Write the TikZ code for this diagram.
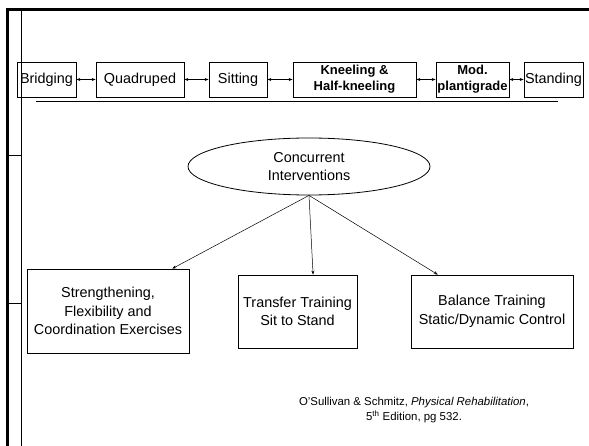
\documentclass[tikz,border=0pt]{standalone}
\usepackage{fontspec}
\setmainfont{Liberation Sans}
\usetikzlibrary{arrows.meta,calc,shapes.geometric}

\begin{document}
\begin{tikzpicture}[x=1pt,y=-1pt,>={Stealth[length=4pt,width=3pt]},
    stage/.style={draw,line width=0.8pt,minimum height=35pt,inner sep=0pt,align=center,
        font=\fontsize{14.4}{18}\selectfont},
    boldstage/.style={stage,font=\fontsize{13}{16}\selectfont\bfseries},
    task/.style={draw,line width=0.8pt,inner sep=0pt,align=center,
        font=\fontsize{14.4}{18.5}\selectfont},
    link/.style={<->,line width=0.6pt},
    feed/.style={->,line width=0.5pt}]
    \useasboundingbox (0,0) rectangle (589,446);

    % Frame
    \draw[line width=3pt] (7.5,446)--(7.5,9.5)--(589,9.5);
    \draw[line width=1pt] (21,9.5)--(21,446);
    \draw[line width=1pt] (8,156)--(21,156);
    \draw[line width=1pt] (8,304)--(21,304);

    % Progression of postures
    \node[stage,minimum width=59pt] (bridge) at (46.5,79.5) {Bridging};
    \node[stage,minimum width=88pt] (quad) at (140,79.5) {Quadruped};
    \node[stage,minimum width=58pt] (sit) at (238,79.5) {Sitting};
    \node[boldstage,minimum width=123pt] (kneel) at (354.5,79.5) {Kneeling \&\\Half-kneeling};
    \node[boldstage,minimum width=73pt] (plant) at (472.5,79.5) {Mod.\\plantigrade};
    \node[stage,minimum width=59pt] (stand) at (553.5,79.5) {Standing};
    \draw[link] (bridge)--(quad);
    \draw[link] (quad)--(sit);
    \draw[link] (sit)--(kneel);
    \draw[link] (kneel)--(plant);
    \draw[link] (plant)--(stand);
    \draw[line width=1pt] (36,102)--(558,102);

    % Concurrent interventions
    \node[ellipse,draw,line width=0.8pt,minimum width=242pt,minimum height=57pt,inner sep=0pt,
        align=center,font=\fontsize{14.4}{18}\selectfont] (conc) at (309,166.5) {Concurrent\\Interventions};
    \node[task,minimum width=162pt,minimum height=84pt] (sfc) at (108,311) {Strengthening,\\Flexibility and\\Coordination Exercises};
    \node[task,minimum width=119pt,minimum height=73pt] (sts) at (297.5,311.5) {Transfer Training\\Sit to Stand};
    \node[task,minimum width=162pt,minimum height=73pt] (bal) at (492,311.5) {Balance Training\\Static/Dynamic Control};
    \draw[feed] (conc.south)--($(sfc.north west)!0.895!(sfc.north east)$);
    \draw[feed] (conc.south)--($(sts.north west)!0.63!(sts.north east)$);
    \draw[feed] (conc.south)--($(bal.north west)!0.167!(bal.north east)$);

    % Source
    \node[align=center,font=\fontsize{11.4}{15}\selectfont] (src) at (414,410)
        {O'Sullivan \& Schmitz, \textit{Physical Rehabilitation},\\5\textsuperscript{th} Edition, pg 532.};
\end{tikzpicture}
\end{document}
